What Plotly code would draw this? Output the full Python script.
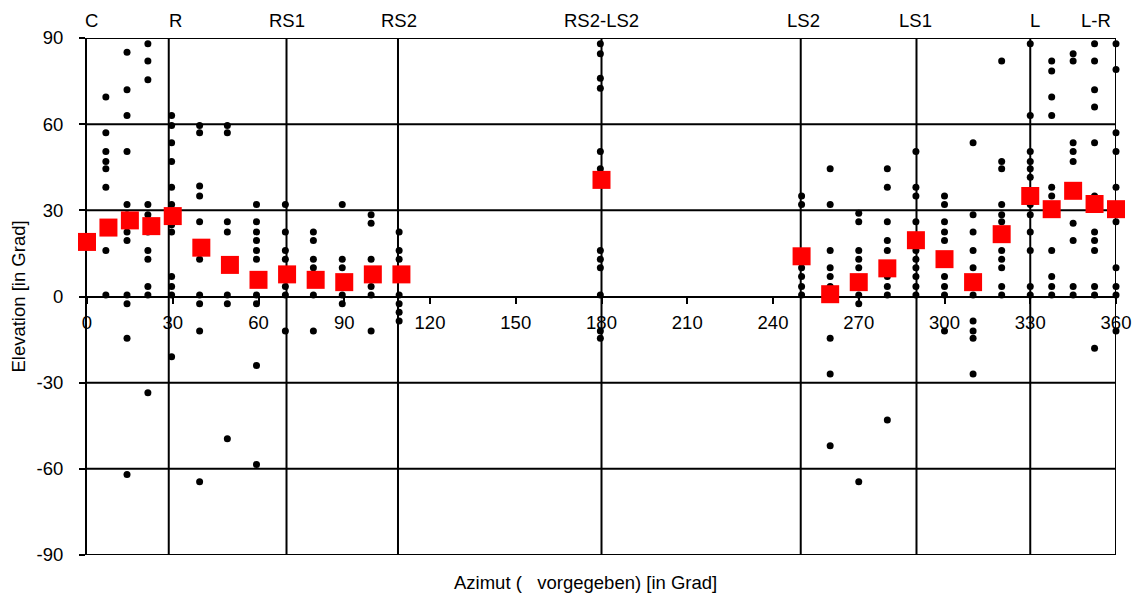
import plotly.graph_objects as go

# ---------------- data ----------------
speaker_labels = ["C", "R", "RS1", "RS2", "RS2-LS2", "LS2", "LS1", "L", "L-R"]
speaker_az = [0, 28.6, 69.8, 108.8, 180, 249.7, 290.2, 330, 360]
label_az = [1.4, 31, 70, 109, 180, 250.7, 290, 331.7, 353]

x_ticks = [0, 30, 60, 90, 120, 150, 180, 210, 240, 270, 300, 330, 360]
y_ticks = [-90, -60, -30, 0, 30, 60, 90]
grid_el = [-90, -60, -30, 30, 60, 90]

# single responses (black dots), one list per azimuth column
dot_col_az = [-1, 6.6, 14, 21.3, 29.6, 39.4, 49.1, 59.3, 69.4, 79.2, 89.3, 99.4, 109.2,
              179.6, 250, 260, 270, 280, 290, 300, 310, 320, 330, 337.5, 345, 352.5, 360]
dot_col_el = [
    [82, 47, 44, 41.5, 28.5, 3.5, 0.5, -8.5],
    [69.5, 57, 50.5, 47, 44.5, 38, 16, 0.5],
    [91, 85, 72, 63, 50.5, 32, 28.5, 22.5, 19.5, 0.5, -2.5, -14.5, -62],
    [88, 82, 75.5, 32, 28.5, 22.5, 16, 13, 3.5, 0.5, -33.5],
    [63, 59.5, 53.5, 47, 38, 32, 25, 22.5, 7, 3.5, 0.5, -21],
    [59.5, 57, 38.5, 35, 26, 13, 0.5, -2.5, -12, -64.5],
    [59.5, 57, 26, 22.5, 12, 0.5, -2.5, -49.5],
    [32, 26, 22.5, 19.5, 16, 13, 0.5, -2.5, -24, -58.5],
    [32, 22.5, 16, 13, 7, 3.5, 0.5, -12],
    [22.5, 19.5, 13, 10, 0.5, -12],
    [32, 13, 10, 0.5, -2.5],
    [28.5, 25.5, 13, 3.5, 0.5, -12],
    [22.5, 16, 13, 0.5, -2.5, -5.5, -8.5],
    [88, 84.5, 76, 72.5, 50.5, 44.5, 16, 13, 10, 0.5, -12, -14.5],
    [35, 32, 10, 7, 3.5, 0.5],
    [44.5, 32, 16, 10, 7, 3.5, -14.5, -27, -52],
    [29, 26, 16, 13, 10, 0.5, -2.5, -64.5],
    [44.5, 38, 26, 19.5, 16, 7, 3.5, 0.5, -43],
    [50.5, 38, 35, 26, 16, 13, 10, 7, 3.5, 0.5],
    [35, 32, 26, 22.5, 19.5, 7, 3.5, 0.5, -12],
    [53.5, 28.5, 22.5, 16, 10, 0.5, -8.5, -12, -14.5, -27],
    [82, 47, 44.5, 32, 28.5, 26, 16, 13, 10, 3.5, 0.5],
    [88, 63, 50.5, 47, 44.5, 41.5, 32, 28.5, 22.5, 16, 3.5, 0.5],
    [82, 78.5, 69.5, 63, 38, 35, 16, 7, 3.5, 0.5],
    [91, 84.5, 82, 53.5, 50.5, 47, 25.5, 19.5, 3.5, 0.5],
    [88, 82, 72, 66, 53.5, 35, 22.5, 19.5, 16, 3.5, 0.5, -18],
    [91, 88, 79, 57, 50.5, 38, 26, 10, 3.5, 0.5, -12],
]

# mean elevation per azimuth (red squares)
mean_az = [0, 7.5, 15, 22.5, 30, 40, 50, 60, 70, 80, 90, 100, 110, 180,
           250, 260, 270, 280, 290, 300, 310, 320, 330, 337.5, 345, 352.5, 360]
mean_el = [19, 24, 26.5, 24.5, 28, 17, 11, 5.8, 7.7, 5.8, 5, 7.7, 7.7, 40.6,
           14, 0.8, 5, 9.8, 19.6, 13, 5, 21.7, 35, 30.4, 36.8, 32.2, 30.4]

# ---------------- figure ----------------
FONT = "Liberation Sans, Arial, sans-serif"
FS = 18.5

dx, dy = [], []
for a, els in zip(dot_col_az, dot_col_el):
    for e in els:
        dx.append(a)
        dy.append(e)

fig = go.Figure()
fig.add_trace(go.Scatter(x=dx, y=dy, mode="markers", cliponaxis=False,
                         marker=dict(symbol="circle", size=7, color="black",
                                     line=dict(width=0)),
                         showlegend=False))
fig.add_trace(go.Scatter(x=mean_az, y=mean_el, mode="markers", cliponaxis=False,
                         marker=dict(symbol="square", size=18, color="#ff0000",
                                     line=dict(width=0)),
                         showlegend=False))

shapes = []
for g in grid_el:
    shapes.append(dict(type="line", xref="x", yref="y", x0=0, x1=360, y0=g, y1=g,
                       line=dict(color="black", width=2), layer="below"))
for a in speaker_az[1:]:
    shapes.append(dict(type="line", xref="x", yref="y", x0=a, x1=a, y0=-91.2, y1=92,
                       line=dict(color="black", width=2), layer="below"))

annotations = []
for lab, a in zip(speaker_labels, label_az):
    annotations.append(dict(text=lab, x=a, xref="x", y=1.033, yref="paper",
                            xanchor="center", yanchor="middle", showarrow=False,
                            font=dict(family=FONT, size=FS, color="black")))
annotations.append(dict(text="Azimut (   vorgegeben) [in Grad]", x=0.4845, xref="paper",
                        y=-0.054, yref="paper", xanchor="center", yanchor="middle",
                        showarrow=False, font=dict(family=FONT, size=FS, color="black")))
annotations.append(dict(text="Elevation [in Grad]", x=-0.067, xref="paper",
                        y=0.5, yref="paper", xanchor="center", yanchor="middle",
                        textangle=-90, showarrow=False,
                        font=dict(family=FONT, size=FS, color="black")))

fig.update_layout(
    width=1143, height=597,
    margin=dict(l=87, r=24, t=38, b=42),
    paper_bgcolor="white", plot_bgcolor="white",
    font=dict(family=FONT, size=FS, color="black"),
    shapes=shapes, annotations=annotations,
    hovermode=False,
    xaxis=dict(range=[0, 360], tickvals=x_ticks, ticktext=[str(v) for v in x_ticks],
               showgrid=False, zeroline=False, showline=True, linecolor="black",
               linewidth=2, ticks="outside", ticklen=6, tickwidth=2, tickcolor="black",
               anchor="free", position=0.5, layer="below traces",
               ticklabelstandoff=3,
               tickfont=dict(family=FONT, size=FS, color="black")),
    yaxis=dict(range=[-90, 90], tickvals=y_ticks, ticktext=[str(v) for v in y_ticks],
               showgrid=False, zeroline=False, showline=True, linecolor="black",
               linewidth=2, ticks="outside", ticklen=6, tickwidth=2, tickcolor="black",
               ticklabelstandoff=12, layer="below traces",
               tickfont=dict(family=FONT, size=FS, color="black")),
)

# remove the browser's default 8px body margin so the figure fills the window exactly
fig.write_html("out.html", config={"displayModeBar": False},
               post_script="document.body.style.margin='0';document.body.style.overflow='hidden';")
